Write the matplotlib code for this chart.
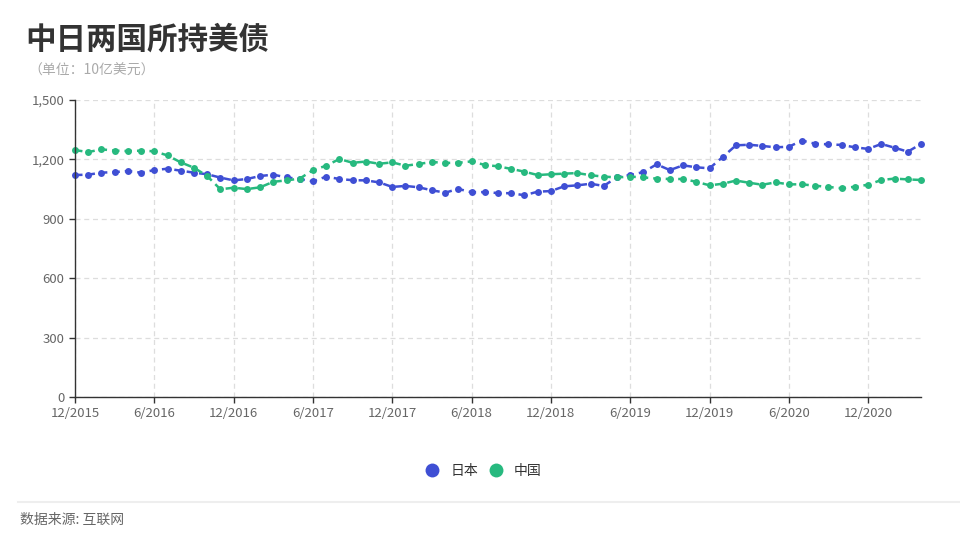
import numpy as np
import matplotlib.pyplot as plt
from matplotlib.lines import Line2D

plt.rcParams['font.family'] = ['Noto Sans CJK SC', 'DejaVu Sans']

# monthly points from 12/2015 to 4/2021
tick_labels = ['12/2015', '6/2016', '12/2016', '6/2017', '12/2017', '6/2018',
               '12/2018', '6/2019', '12/2019', '6/2020', '12/2020']
japan = [1121, 1123, 1133, 1136, 1141, 1133, 1146, 1153, 1143, 1133,
         1125, 1108, 1094, 1101, 1116, 1123, 1109, 1101, 1089, 1113,
         1101, 1095, 1094, 1084, 1061, 1066, 1059, 1044, 1032, 1051,
         1034, 1035, 1030, 1029, 1019, 1037, 1040, 1064, 1069, 1077,
         1066, 1110, 1121, 1136, 1175, 1146, 1170, 1160, 1155, 1212,
         1271, 1274, 1268, 1261, 1264, 1295, 1279, 1276, 1273, 1261,
         1253, 1278, 1259, 1239, 1278]
china = [1247, 1237, 1251, 1244, 1242, 1244, 1241, 1220, 1185, 1158,
         1116, 1049, 1057, 1050, 1059, 1087, 1094, 1103, 1146, 1168,
         1202, 1183, 1189, 1178, 1185, 1168, 1177, 1187, 1182, 1183,
         1190, 1172, 1165, 1152, 1138, 1121, 1125, 1128, 1131, 1120,
         1113, 1109, 1113, 1109, 1103, 1101, 1101, 1087, 1069, 1077,
         1093, 1082, 1072, 1084, 1074, 1074, 1067, 1061, 1054, 1062,
         1072, 1096, 1103, 1099, 1096]
series_names = ['日本', '中国']
colors = ['#3f4fd4', '#27b97f']

x = np.arange(len(japan))

fig = plt.figure(figsize=(9.6, 5.4), dpi=100)
ax = fig.add_axes([75 / 960, 143 / 540, 846 / 960, 297 / 540])

for vals, c in zip([japan, china], colors):
    ax.plot(x, vals, color=c, lw=1.8, ls=(0, (3, 2)), marker='o',
            markersize=5, markeredgewidth=0, clip_on=False)

ax.set_xlim(0, len(japan) - 1)
ax.set_ylim(0, 1500)
ax.set_xticks(np.arange(0, len(japan), 6))
ax.set_xticklabels(tick_labels)
ax.set_yticks(np.arange(0, 1501, 300))
ax.set_yticklabels([f'{v:,}' for v in range(0, 1501, 300)])
ax.grid(True, color='#dddddd', ls=(0, (4, 3)), lw=0.9)
ax.set_axisbelow(True)
for s in ['top', 'right']:
    ax.spines[s].set_visible(False)
for s in ['left', 'bottom']:
    ax.spines[s].set_color('#333333')
    ax.spines[s].set_linewidth(1.0)
ax.tick_params(colors='#333333', labelcolor='#666666', labelsize=9.5,
               length=4, width=1)
ax.tick_params(axis='x', pad=3)

fig.text(25 / 960, 1 - 40 / 540, '中日两国所持美债', fontsize=22,
         fontweight='bold', color='#333333', va='center')
fig.text(28 / 960, 1 - 71 / 540, '（单位：10亿美元）', fontsize=10,
         color='#aaaaaa', va='center')

handles = [Line2D([], [], ls='none', marker='o', markersize=10,
                  markeredgewidth=0, color=c) for c in colors]
fig.legend(handles, series_names, loc='center', bbox_to_anchor=(0.5, 1 - 471 / 540),
           ncol=2, frameon=False, fontsize=10, handletextpad=0.3,
           columnspacing=0.3, labelcolor='#333333')

fig.add_artist(Line2D([18 / 960, 1.0], [1 - 502 / 540, 1 - 502 / 540],
                      color='#eeeeee', lw=1.5))
fig.text(20 / 960, 1 - 520 / 540, '数据来源: 互联网', fontsize=10,
         color='#666666', va='center')

fig.savefig('out.png', dpi=100)
